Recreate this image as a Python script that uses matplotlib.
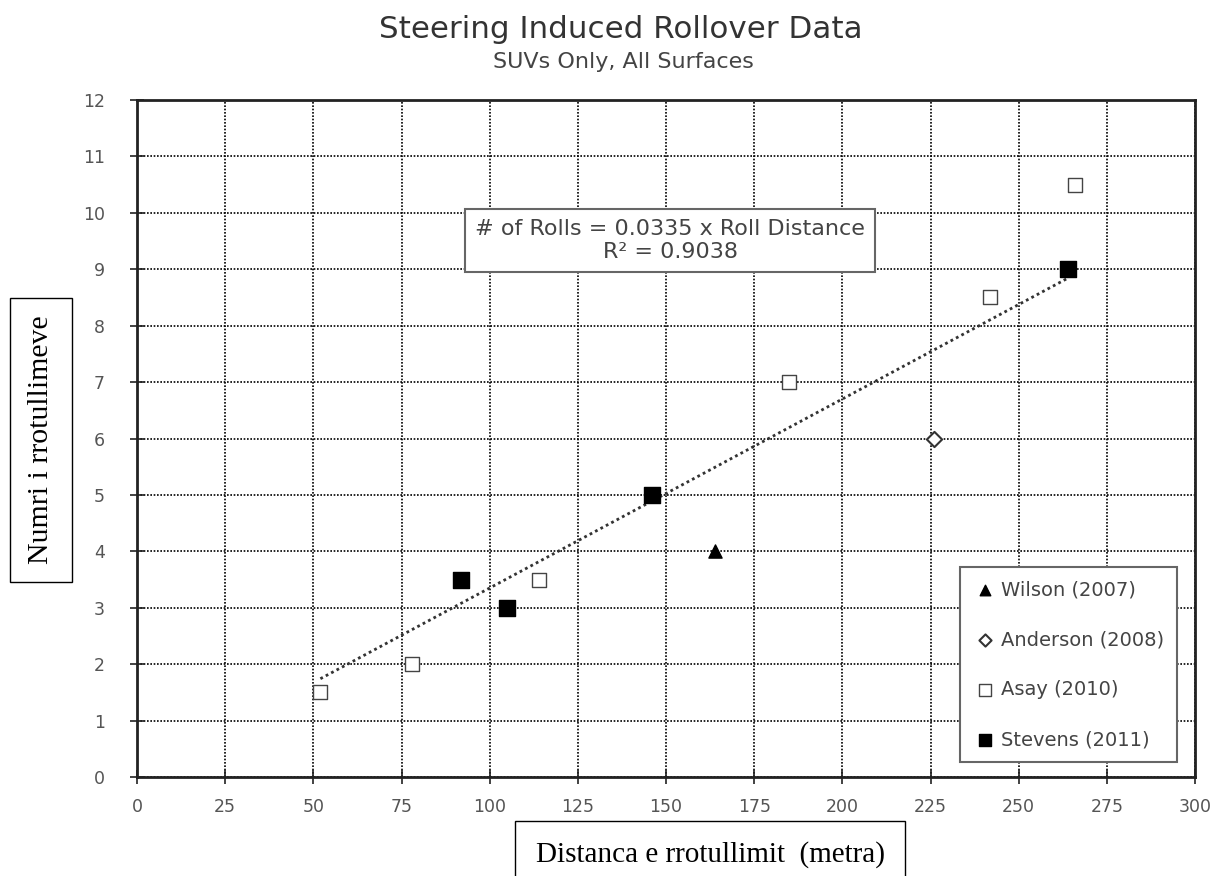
import numpy as np
import matplotlib.pyplot as plt

# data
wilson_x = [164]
wilson_y = [4]
anderson_x = [226]
anderson_y = [6]
asay_x = [52, 78, 114, 185, 242, 266]
asay_y = [1.5, 2, 3.5, 7, 8.5, 10.5]
stevens_x = [92, 105, 146, 264]
stevens_y = [3.5, 3, 5, 9]
slope = 0.0335
x_ticks = list(range(0, 301, 25))
y_ticks = list(range(0, 13))

fig = plt.figure(figsize=(12.22, 8.76), dpi=100)
ax = fig.add_axes([137/1222, 1 - 777/876, (1195-137)/1222, (777-100)/876])

ax.set_xlim(0, 300)
ax.set_ylim(0, 12)
ax.set_xticks(x_ticks)
ax.set_yticks(y_ticks)
ax.grid(True, color="black", linestyle=(0, (1, 1)), linewidth=1.2)
ax.set_axisbelow(True)
for s in ax.spines.values():
    s.set_linewidth(2)
    s.set_color("#222222")
ax.tick_params(direction="inout", length=10, width=1.2, colors="#222222",
               labelcolor="#555555", labelsize=12.5)
ax.tick_params(axis="x", pad=10)
ax.tick_params(axis="y", pad=18)

# trendline through origin, over the data range
all_x = wilson_x + anderson_x + asay_x + stevens_x
tx = np.array([min(all_x), max(stevens_x)])
ax.plot(tx, slope * tx, color="#333333", linestyle=(0, (1, 1.2)), linewidth=2, zorder=2)

ax.scatter(wilson_x, wilson_y, marker="^", s=90, color="black", zorder=3, label="Wilson (2007)")
ax.scatter(anderson_x, anderson_y, marker="D", s=60, facecolor="white", edgecolor="#333333",
           linewidth=1.5, zorder=3, label="Anderson (2008)")
ax.scatter(asay_x, asay_y, marker="s", s=110, facecolor="white", edgecolor="#444444",
           linewidth=1, zorder=3, label="Asay (2010)")
ax.scatter(stevens_x, stevens_y, marker="s", s=130, color="black", zorder=3, label="Stevens (2011)")

leg = ax.legend(loc="lower right", bbox_to_anchor=(0.983, 0.022), borderaxespad=0,
                fontsize=14, labelspacing=1.6, handletextpad=0.25, handlelength=1.2,
                borderpad=0.65, fancybox=False, framealpha=1, edgecolor="#666666",
                markerscale=0.8)
leg.get_frame().set_linewidth(1.5)
for t in leg.get_texts():
    t.set_color("#444444")

ax.text(0.504, 0.793, "# of Rolls = 0.0335 x Roll Distance\nR² = 0.9038",
        transform=ax.transAxes, ha="center", va="center", fontsize=16, color="#444444",
        linespacing=1.2,
        bbox=dict(boxstyle="square,pad=0.45", facecolor="white", edgecolor="#666666", linewidth=1.5))

fig.text(621/1222, 1 - 30/876, "Steering Induced Rollover Data", ha="center", va="center",
         fontsize=22.3, color="#333333")
fig.text(623/1222, 1 - 62/876, "SUVs Only, All Surfaces", ha="center", va="center",
         fontsize=16, color="#444444")

fig.text(41/1222, 1 - 440/876, "Numri i rrotullimeve", rotation=90, ha="center", va="center",
         fontsize=21.5, family="Liberation Serif",
         bbox=dict(boxstyle="square,pad=0.6", facecolor="white", edgecolor="black", linewidth=1))
fig.text(710/1222, 1 - 855/876, "Distanca e rrotullimit  (metra)", ha="center", va="center",
         fontsize=21, family="Liberation Serif",
         bbox=dict(boxstyle="square,pad=0.7", facecolor="white", edgecolor="black", linewidth=1))

fig.savefig("out.png", dpi=100)
